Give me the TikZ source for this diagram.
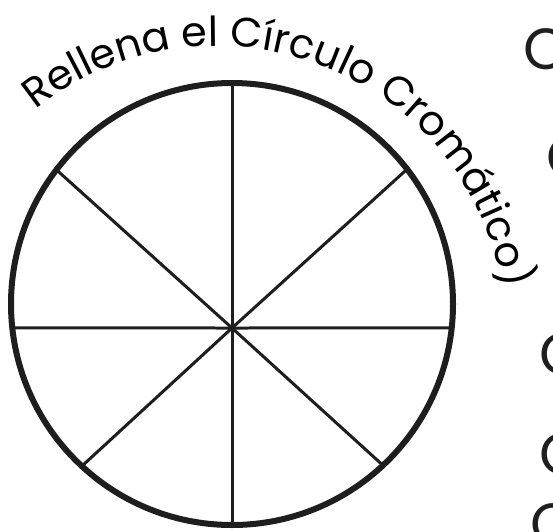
\documentclass[tikz,border=0pt]{standalone}
\usepackage{fontspec}
\setmainfont{Poppins}
\usetikzlibrary{decorations.text}

\definecolor{ink}{HTML}{1E1E1E}
\newcommand\wheelfont{\fontsize{23.5}{24}\selectfont}
\newcommand\edgefont{\fontsize{33}{34}\selectfont}

\begin{document}
\begin{tikzpicture}[
  x=0.02cm, y=0.02cm,
  rim/.style={draw=ink, line width=0.12cm},
  spoke/.style={draw=ink, line width=0.06cm},
  edgeletter/.style={font=\edgefont, text=ink, inner sep=0pt, anchor=west}
]

\useasboundingbox (0,0) rectangle (553,-531);
\fill[white] (0,0) rectangle (553,-531);

% -------------------------
% Wheel: rim centre and spoke hub
% -------------------------

\coordinate (c) at (232,-304);
\coordinate (hub) at (232,-328);

% spoke ends on the rim
\foreach \name/\ang in {n/90, ne/37.6, e/353.8, se/313.1, s/270, sw/227.2, w/186.2, nw/142.6}
  \coordinate (\name) at ([shift={(\ang:221)}]c);

\foreach \name in {n, ne, e, se, s, sw, w, nw}
  \draw[spoke] (hub) -- (\name);

\draw[rim] (c) circle[radius=221];

% -------------------------
% Title along the arc
% -------------------------

\coordinate (tc) at (217,-336);
\path[decorate, decoration={text along path, text align=center,
      text={|\wheelfont|Rellena el Círculo Cromático)}}]
  (tc) ++(131:290) arc[start angle=131, end angle=7, radius=290];

% -------------------------
% Letters cut by the right edge
% -------------------------

\begin{scope}
  \clip (0,0) rectangle (553,-531);
  \node[edgeletter] (c1) at (523,-49)  {C};
  \node[edgeletter] (c2) at (546,-157) {C};
  \node[edgeletter] (c3) at (539,-354) {C};
  \node[edgeletter] (c4) at (539,-454) {C};
  \node[edgeletter] (c5) at (530,-524) {C};
\end{scope}

\end{tikzpicture}
\end{document}
